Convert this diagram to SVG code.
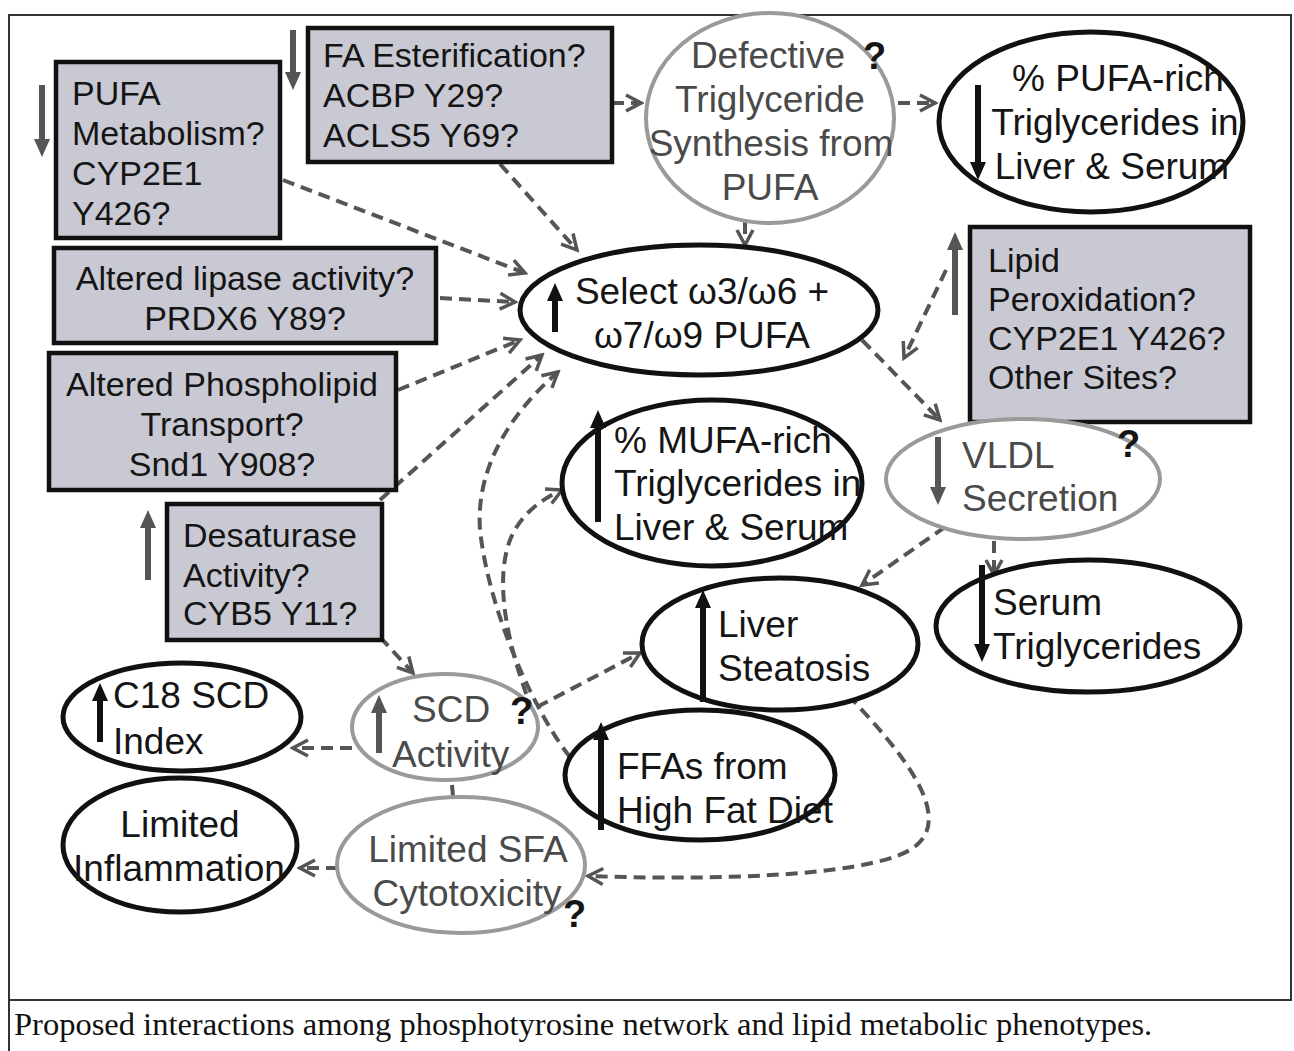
<svg xmlns="http://www.w3.org/2000/svg" width="1294" height="1051" viewBox="0 0 1294 1051">
<defs>
<marker id="ah" markerUnits="userSpaceOnUse" markerWidth="22" markerHeight="22" viewBox="0 0 22 22" refX="19" refY="11" orient="auto">
<path d="M4,3 L19,11 L4,19" fill="none" stroke="#555" stroke-width="3.5"/>
</marker>
</defs>
<style>
.frame{fill:none;stroke:#333;stroke-width:2}
.box{fill:#c9c9d3;stroke:#111;stroke-width:4.5}
.ell{fill:#fff;stroke:#111;stroke-width:5}
.gell{fill:#fff;stroke:#9a9a9a;stroke-width:4}
.t{font-family:"Liberation Sans",Arial,sans-serif;font-size:34px;fill:#151515}
.e{font-size:37px}
.g{fill:#4a4a4a}
.c{text-anchor:middle}
.q{font-family:"Liberation Sans",Arial,sans-serif;font-size:38px;font-weight:bold;fill:#151515}
.ba{fill:#111}
.ga{fill:#555}
.con{fill:none;stroke:#555;stroke-width:4;stroke-dasharray:12 7;marker-end:url(#ah)}
.cap{font-family:"Liberation Serif","Times New Roman",serif;font-size:32.5px;fill:#111}
</style>
<rect width="1294" height="1051" fill="#fff"/>
<g id="frame">
<rect class="frame" x="9" y="15" width="1282" height="985"/>
<line class="frame" x1="9" y1="1000" x2="9" y2="1051"/>
<text class="cap" x="14" y="1035">Proposed interactions among phosphotyrosine network and lipid metabolic phenotypes.</text>
</g>
<g id="connectors">
<path class="con" d="M612,103 L641,103"/>
<path class="con" d="M898,103 L935,103"/>
<path class="con" d="M500,164 L577,250"/>
<path class="con" d="M283,180 L525,273"/>
<path class="con" d="M440,298 L515,302"/>
<path class="con" d="M398,390 L520,340"/>
<path class="con" d="M380,500 L542,355"/>
<path class="con" d="M570,757 C540,720 490,620 480,530 C475,460 520,405 558,372"/>
<path class="con" d="M533,712 C505,640 495,580 510,540 C520,515 540,500 562,490"/>
<path class="con" d="M380,637 L413,673"/>
<path class="con" d="M537,707 L640,653"/>
<path class="con" d="M352,748 L293,748"/>
<path class="con" d="M452,785 L456,830"/>
<path class="con" d="M338,868 L300,868"/>
<path class="con" d="M848,695 C900,750 960,820 910,850 C860,878 700,880 588,876"/>
<path class="con" d="M862,340 L940,420"/>
<path class="con" d="M946,270 L904,358"/>
<path class="con" d="M745,222 L745,245"/>
<path class="con" d="M945,527 L862,585"/>
<path class="con" d="M994,541 L994,575"/>
</g>
<g id="pufa-metabolism">
<rect class="box" x="56" y="62" width="224" height="176"/>
<path class="ga" d="M39,85 H45 V139 H50 L42,157 L34,139 H39 Z"/>
<text class="t" x="72" y="105">PUFA</text>
<text class="t" x="72" y="145">Metabolism?</text>
<text class="t" x="72" y="185">CYP2E1</text>
<text class="t" x="72" y="225">Y426?</text>
</g>
<g id="fa-esterification">
<rect class="box" x="308" y="28" width="304" height="134"/>
<path class="ga" d="M290,30 H296 V72 H301 L293,90 L285,72 H290 Z"/>
<text class="t" x="323" y="67">FA Esterification?</text>
<text class="t" x="323" y="107">ACBP Y29?</text>
<text class="t" x="323" y="147">ACLS5 Y69?</text>
</g>
<g id="lipase">
<rect class="box" x="54" y="248" width="382" height="95"/>
<text class="t c" x="245" y="290">Altered lipase activity?</text>
<text class="t c" x="245" y="330">PRDX6 Y89?</text>
</g>
<g id="phospholipid">
<rect class="box" x="49" y="353" width="347" height="137"/>
<text class="t c" x="222" y="396">Altered Phospholipid</text>
<text class="t c" x="222" y="436">Transport?</text>
<text class="t c" x="222" y="476">Snd1 Y908?</text>
</g>
<g id="desaturase">
<rect class="box" x="167" y="504" width="215" height="136"/>
<path class="ga" d="M145,580 H151 V528 H156 L148,510 L140,528 H145 Z"/>
<text class="t" x="183" y="547">Desaturase</text>
<text class="t" x="183" y="587">Activity?</text>
<text class="t" x="183" y="625">CYB5 Y11?</text>
</g>
<g id="lipid-peroxidation">
<rect class="box" x="970" y="227" width="280" height="195"/>
<path class="ga" d="M952,315 H958 V250 H963 L955,232 L947,250 H952 Z"/>
<text class="t" x="988" y="272">Lipid</text>
<text class="t" x="988" y="311">Peroxidation?</text>
<text class="t" x="988" y="350">CYP2E1 Y426?</text>
<text class="t" x="988" y="389">Other Sites?</text>
</g>
<g id="defective-tg">
<ellipse class="gell" cx="770" cy="118" rx="124" ry="105"/>
<text class="t e g c" x="768" y="68">Defective</text>
<text class="t e g c" x="770" y="112">Triglyceride</text>
<text class="t e g c" x="771" y="156">Synthesis from</text>
<text class="t e g c" x="770" y="200">PUFA</text>
<text class="q" x="863" y="69">?</text>
</g>
<g id="pufa-rich">
<ellipse class="ell" cx="1091" cy="122" rx="152" ry="90"/>
<path class="ba" d="M975,85 H981 V162 H986 L978,180 L970,162 H975 Z"/>
<text class="t e c" x="1118" y="91">% PUFA-rich</text>
<text class="t e c" x="1115" y="135">Triglycerides in</text>
<text class="t e c" x="1112" y="179">Liver &amp; Serum</text>
</g>
<g id="select-pufa">
<ellipse class="ell" cx="699" cy="310" rx="179" ry="65"/>
<path class="ba" d="M552,332 H558 V301 H563 L555,283 L547,301 H552 Z"/>
<text class="t e c" x="702" y="304">Select ω3/ω6 +</text>
<text class="t e c" x="702" y="348">ω7/ω9 PUFA</text>
</g>
<g id="mufa-rich">
<ellipse class="ell" cx="712" cy="483" rx="150" ry="83"/>
<path class="ba" d="M595,522 H601 V428 H606 L598,410 L590,428 H595 Z"/>
<text class="t e" x="614" y="453">% MUFA-rich</text>
<text class="t e" x="614" y="496">Triglycerides in</text>
<text class="t e" x="614" y="540">Liver &amp; Serum</text>
</g>
<g id="vldl">
<ellipse class="gell" cx="1023" cy="479" rx="137" ry="60"/>
<path class="ga" d="M935,437 H941 V487 H946 L938,505 L930,487 H935 Z"/>
<text class="t e g" x="962" y="468">VLDL</text>
<text class="t e g" x="962" y="511">Secretion</text>
<text class="q" x="1117" y="457">?</text>
</g>
<g id="liver-steatosis">
<ellipse class="ell" cx="780" cy="644" rx="138" ry="66"/>
<path class="ba" d="M700,702 H706 V608 H711 L703,590 L695,608 H700 Z"/>
<text class="t e" x="718" y="637">Liver</text>
<text class="t e" x="718" y="681">Steatosis</text>
</g>
<g id="serum-tg">
<ellipse class="ell" cx="1088" cy="626" rx="152" ry="66"/>
<path class="ba" d="M979,565 H985 V644 H990 L982,662 L974,644 H979 Z"/>
<text class="t e" x="993" y="615">Serum</text>
<text class="t e" x="993" y="659">Triglycerides</text>
</g>
<g id="c18-scd">
<ellipse class="ell" cx="182" cy="717" rx="119" ry="54"/>
<path class="ba" d="M97,742 H103 V701 H108 L100,683 L92,701 H97 Z"/>
<text class="t e" x="113" y="708">C18 SCD</text>
<text class="t e" x="113" y="754">Index</text>
</g>
<g id="scd-activity">
<ellipse class="gell" cx="445" cy="727" rx="93" ry="53"/>
<path class="ga" d="M376,753 H382 V713 H387 L379,695 L371,713 H376 Z"/>
<text class="t e g" x="412" y="722">SCD</text>
<text class="t e g" x="392" y="767">Activity</text>
<text class="q" x="510" y="724">?</text>
</g>
<g id="ffas">
<ellipse class="ell" cx="700" cy="775" rx="135" ry="65"/>
<path class="ba" d="M598,830 H604 V740 H609 L601,722 L593,740 H598 Z"/>
<text class="t e" x="617" y="779">FFAs from</text>
<text class="t e" x="617" y="823">High Fat Diet</text>
</g>
<g id="limited-inflammation">
<ellipse class="ell" cx="180" cy="845" rx="117" ry="67"/>
<text class="t e c" x="180" y="837">Limited</text>
<text class="t e c" x="179" y="881">Inflammation</text>
</g>
<g id="limited-sfa">
<ellipse class="gell" cx="461" cy="865" rx="124" ry="68"/>
<text class="t e g c" x="468" y="862">Limited SFA</text>
<text class="t e g c" x="467" y="906">Cytotoxicity</text>
<text class="q" x="563" y="927">?</text>
</g>
</svg>
